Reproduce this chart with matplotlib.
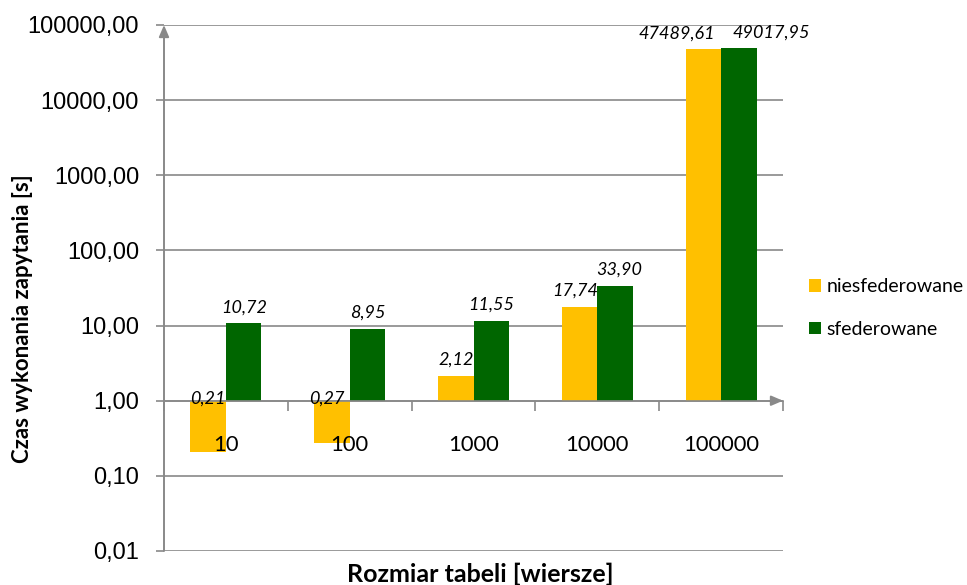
import matplotlib
matplotlib.use('Agg')
import matplotlib.pyplot as plt
import matplotlib.ticker as mticker
from matplotlib.patches import Patch
import numpy as np

# dane z wykresu
categories = ['10', '100', '1000', '10000', '100000']
niesfederowane = [0.21, 0.27, 2.12, 17.74, 47489.61]
sfederowane = [10.72, 8.95, 11.55, 33.90, 49017.95]
y_ticks = [0.01, 0.1, 1, 10, 100, 1000, 10000, 100000]

YELLOW = '#FFC000'
GREEN = '#006600'
GRAY = '#898989'
FONT = 'Lato'


def fmt_pl(v):
    return f'{v:.2f}'.replace('.', ',')


fig = plt.figure(figsize=(9.67, 5.85), dpi=100)
ax = fig.add_axes([164 / 967, 1 - 551 / 585, 619 / 967, 526 / 585])

x = np.arange(len(categories))
w = 0.287

# słupki rosną od osi X ustawionej na 1
b1 = ax.bar(x - w / 2, np.array(niesfederowane) - 1, bottom=1, width=w,
            color=YELLOW, zorder=3)
b2 = ax.bar(x + w / 2, np.array(sfederowane) - 1, bottom=1, width=w,
            color=GREEN, zorder=3)

ax.set_yscale('log')
ax.set_ylim(0.01, 100000)
ax.set_xlim(-0.5, 4.5)

ax.yaxis.set_major_locator(mticker.FixedLocator(y_ticks))
ax.yaxis.set_minor_locator(mticker.NullLocator())
ax.yaxis.set_major_formatter(mticker.FuncFormatter(lambda v, p: fmt_pl(v)))
ax.yaxis.grid(True, color=GRAY, linewidth=1.2)
ax.tick_params(axis='y', length=6, width=1.2, color=GRAY, pad=12)
for lab in ax.get_yticklabels():
    lab.set_fontfamily('Liberation Sans')
    lab.set_fontsize(17)

# oś X przecina oś Y w 1, podpisy kategorii nad słupkami
for s in ['top', 'right', 'left']:
    ax.spines[s].set_visible(False)
ax.spines['bottom'].set_position(('data', 1))
ax.spines['bottom'].set_color(GRAY)
ax.spines['bottom'].set_linewidth(1.2)
ax.spines['bottom'].set_zorder(4)
ax.xaxis.set_zorder(5)
ax.set_xticks(x)
ax.set_xticklabels(categories, fontfamily=FONT, fontsize=15.8)
ax.set_xticks(np.arange(-0.5, 4.6, 1), minor=True)
ax.tick_params(axis='x', which='major', length=0, pad=25)
ax.tick_params(axis='x', which='minor', length=7, width=1.2, color=GRAY)

# strzałki osi
ax.annotate('', xy=(0, 1.0), xycoords='axes fraction', xytext=(0, 0),
            arrowprops=dict(arrowstyle='-|>,head_length=0.7,head_width=0.3',
                            color=GRAY, lw=1.4, shrinkA=0, shrinkB=0), zorder=5)
ax.annotate('', xy=(1.0, 1), xycoords=('axes fraction', 'data'),
            xytext=(0.98, 1), textcoords=('axes fraction', 'data'),
            arrowprops=dict(arrowstyle='-|>,head_length=0.7,head_width=0.3',
                            color=GRAY, lw=1.4, shrinkA=0, shrinkB=0), zorder=5)

# etykiety wartości (przesunięte tam, gdzie nachodzą na siebie)
label_dx = {1: (-3.5, 0), 3: (-3.5, 3), 4: (-19, 23)}
for i in range(len(categories)):
    dx1, dx2 = label_dx.get(i, (0, 0))
    for bar, v, dx in ((b1[i], niesfederowane[i], dx1), (b2[i], sfederowane[i], dx2)):
        dy = 8 if v > 1 else -2
        ax.annotate(fmt_pl(v), (bar.get_x() + bar.get_width() / 2, max(v, 1)),
                    textcoords='offset points', xytext=(dx, dy),
                    ha='center', va='baseline', fontfamily=FONT, fontstyle='italic',
                    fontsize=13, zorder=6)

fig.text(23 / 967, 1 - 319 / 585, 'Czas wykonania zapytania [s]', rotation=90,
         ha='center', va='center', fontfamily=FONT, fontweight='bold', fontsize=16)
fig.text(480 / 967, 1 - 582 / 585, 'Rozmiar tabeli [wiersze]', ha='center', va='baseline',
         fontfamily=FONT, fontweight='bold', fontsize=18)

handles = [Patch(facecolor=YELLOW), Patch(facecolor=GREEN)]
fig.legend(handles, ['niesfederowane', 'sfederowane'], loc='center left',
           bbox_to_anchor=(809 / 967, 1 - 308 / 585), frameon=False, borderpad=0,
           borderaxespad=0, prop={'family': FONT, 'size': 14}, handlelength=0.6,
           handleheight=0.6, handletextpad=0.3, labelspacing=1.3)

fig.savefig('out.png', dpi=100)
